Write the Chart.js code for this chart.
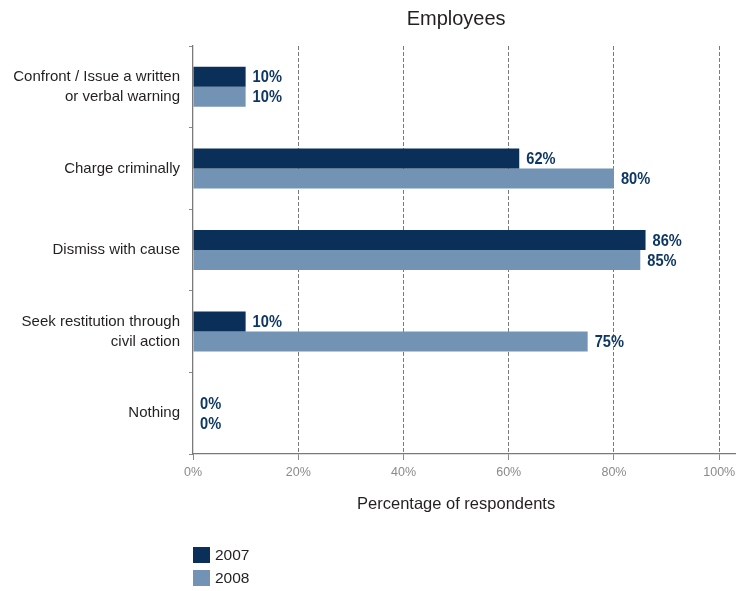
<!DOCTYPE html>
<html>
<head>
<meta charset="utf-8">
<script src="https://cdn.jsdelivr.net/npm/chart.js@4/dist/chart.umd.min.js"></script>
<style>
  html, body { margin: 0; padding: 0; background: #fff; }
  #wrap { width: 754px; height: 591px; }
</style>
</head>
<body>
<div id="wrap"><canvas id="chart" width="754" height="591"></canvas></div>
<script>
// Survey responses: actions taken against employees, by year
const categories = [
  ['Confront / Issue a written', 'or verbal warning'],
  'Charge criminally',
  'Dismiss with cause',
  ['Seek restitution through', 'civil action'],
  'Nothing'
];
const series2007 = [10, 62, 86, 10, 0];
const series2008 = [10, 80, 85, 75, 0];
const seriesNames = ['2007', '2008'];
const tickValues = [0, 20, 40, 60, 80, 100];

const chartTitle = 'Employees';
const axisTitle = 'Percentage of respondents';

const COLOR_2007 = '#0a2f59';
const COLOR_2008 = '#7393b4';
const LABEL_COLOR = '#0f3763';
const AXIS_GREY = '#8a8a8a';
const TEXT_DARK = '#231f20';

// Value labels at the end of every bar, set in a condensed bold face
const valueLabels = {
  id: 'valueLabels',
  afterDatasetsDraw(chart) {
    const ctx = chart.ctx;
    const squeeze = 0.86;
    ctx.save();
    ctx.font = 'bold 17px "Liberation Sans", Arial, sans-serif';
    ctx.fillStyle = LABEL_COLOR;
    ctx.textAlign = 'left';
    ctx.textBaseline = 'middle';
    chart.data.datasets.forEach((ds, i) => {
      const meta = chart.getDatasetMeta(i);
      meta.data.forEach((bar, j) => {
        ctx.save();
        ctx.translate(bar.x + 7, bar.y + 1);
        ctx.scale(squeeze, 1);
        ctx.fillText(ds.data[j] + '%', 0, 0);
        ctx.restore();
      });
    });
    ctx.restore();
  }
};

// Title and axis title centred over the 0–100% span of the value axis
const centredTitle = {
  id: 'centredTitle',
  afterDraw(chart) {
    const ctx = chart.ctx;
    const x = chart.scales.x.getPixelForValue(50);
    ctx.save();
    ctx.font = '20px "Liberation Sans", Arial, sans-serif';
    ctx.fillStyle = TEXT_DARK;
    ctx.textAlign = 'center';
    ctx.textBaseline = 'middle';
    ctx.fillText(chartTitle, x, 19);
    ctx.font = '16.5px "Liberation Sans", Arial, sans-serif';
    ctx.fillText(axisTitle, x, 504);
    ctx.restore();
  }
};

// Stacked legend with square swatches below the axis
const stackedLegend = {
  id: 'stackedLegend',
  afterDraw(chart) {
    const ctx = chart.ctx;
    const left = chart.chartArea.left;
    ctx.save();
    ctx.font = '15.5px "Liberation Sans", Arial, sans-serif';
    ctx.textAlign = 'left';
    ctx.textBaseline = 'middle';
    chart.data.datasets.forEach((ds, i) => {
      const top = 547 + i * 23;
      ctx.fillStyle = ds.backgroundColor;
      ctx.fillRect(left, top, 17, 16);
      ctx.fillStyle = TEXT_DARK;
      ctx.fillText(ds.label, left + 22, top + 8.5);
    });
    ctx.restore();
  }
};

new Chart(document.getElementById('chart'), {
  type: 'bar',
  data: {
    labels: categories,
    datasets: [
      { label: seriesNames[0], data: series2007, backgroundColor: COLOR_2007 },
      { label: seriesNames[1], data: series2008, backgroundColor: COLOR_2008 }
    ]
  },
  options: {
    indexAxis: 'y',
    responsive: false,
    animation: false,
    devicePixelRatio: 1,
    categoryPercentage: 0.49,
    barPercentage: 1.0,
    layout: { padding: { top: 46, right: 19, bottom: 73, left: 0 } },
    plugins: {
      legend: { display: false },
      title: { display: false },
      tooltip: { enabled: false }
    },
    scales: {
      x: {
        min: 0,
        max: 103,
        afterBuildTicks(scale) {
          scale.ticks = tickValues.map(v => ({ value: v }));
        },
        ticks: {
          color: AXIS_GREY,
          font: { family: '"Liberation Sans", Arial, sans-serif', size: 12.5 },
          padding: 5,
          callback: v => v + '%'
        },
        grid: {
          color: ctx => (ctx.tick && ctx.tick.value === 0) ? 'rgba(0,0,0,0)' : '#7a7a7a',
          lineWidth: 1,
          tickLength: 6,
          tickColor: AXIS_GREY,
          tickBorderDash: []
        },
        border: { display: true, color: '#7a7a7a', width: 1.3, dash: [4, 2] },
        afterFit(scale) { scale.height = 64; }
      },
      y: {
        ticks: {
          color: TEXT_DARK,
          font: { family: '"Liberation Sans", Arial, sans-serif', size: 15, lineHeight: 1.35 },
          padding: 9
        },
        grid: {
          drawOnChartArea: false,
          drawTicks: true,
          tickLength: 4,
          tickColor: AXIS_GREY
        },
        border: { display: true, color: '#7a7a7a', width: 1.3 },
        afterFit(scale) { scale.width = 193; }
      }
    }
  },
  plugins: [valueLabels, centredTitle, stackedLegend]
});
</script>
</body>
</html>
